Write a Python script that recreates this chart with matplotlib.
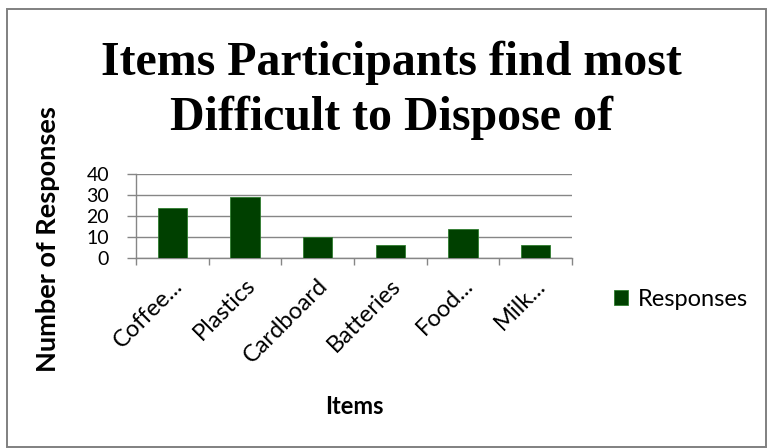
import matplotlib
matplotlib.use('Agg')
from matplotlib import pyplot as plt
from matplotlib.patches import Rectangle
from matplotlib.transforms import ScaledTranslation

categories = ['Coffee...', 'Plastics', 'Cardboard', 'Batteries', 'Food...', 'Milk...']
responses = [24, 29, 10, 6, 14, 6]
y_ticks = [0, 10, 20, 30, 40]

bar_color = '#004000'
grid_color = '#868686'
W, H = 768, 448

fig = plt.figure(figsize=(W / 100, H / 100), dpi=100)
# 外框
fig.patches.append(Rectangle((7 / W, 1 / H), 759 / W, 438 / H, transform=fig.transFigure,
                             fill=False, edgecolor='#808080', linewidth=1.4))

ax = fig.add_axes([136 / W, 1 - 258 / H, 436 / W, 84 / H])
x = range(len(categories))
ax.bar(x, responses, width=0.4, color=bar_color, edgecolor='#2e7d2e', linewidth=0.6,
       label='Responses', zorder=3)

ax.set_xlim(-0.5, len(categories) - 0.5)
ax.set_ylim(0, 40)
ax.set_yticks(y_ticks)
ax.set_yticklabels([str(v) for v in y_ticks], fontsize=14, family='Lato')
ax.yaxis.grid(True, color=grid_color, linewidth=1.0, zorder=0)

# 类别标签放在中心, 刻度线在类别之间
ax.set_xticks(list(x))
ax.set_xticklabels(categories, rotation=45, ha='right', va='center',
                   rotation_mode='anchor', fontsize=17, family='Lato')
ax.tick_params(axis='x', which='major', length=0, pad=0)
shift = ScaledTranslation(7 / 100, -24 / 100, fig.dpi_scale_trans)
for lbl in ax.get_xticklabels():
    lbl.set_transform(lbl.get_transform() + shift)
ax.set_xticks([i - 0.5 for i in range(len(categories) + 1)], minor=True)
ax.tick_params(axis='x', which='minor', length=5, color=grid_color, width=1.0)
ax.tick_params(axis='y', length=6.5, color=grid_color, width=1.0, pad=13)

for side in ['top', 'right']:
    ax.spines[side].set_visible(False)
for side in ['left', 'bottom']:
    ax.spines[side].set_color(grid_color)
    ax.spines[side].set_linewidth(1.0)

title_font = dict(ha='center', va='baseline', fontsize=34.5, fontweight='bold',
                  family='Liberation Serif')
fig.text(391 / W, 1 - 75 / H, 'Items Participants find most', **title_font)
fig.text(391 / W, 1 - 130 / H, 'Difficult to Dispose of', **title_font)

fig.text(48 / W, 1 - 239 / H, 'Number of Responses', rotation=90, ha='center', va='center',
         fontsize=19.5, fontweight='bold', family='Lato')
fig.text(354 / W, 1 - 414 / H, 'Items', ha='center', va='baseline',
         fontsize=17, fontweight='bold', family='Lato')

fig.legend(loc='center left', bbox_to_anchor=(614 / W, 1 - 299 / H), frameon=False,
           prop={'family': 'Lato', 'size': 17}, handlelength=0.6, handleheight=0.6,
           handletextpad=0.4, borderaxespad=0, borderpad=0)

fig.savefig('out.png', dpi=100)
